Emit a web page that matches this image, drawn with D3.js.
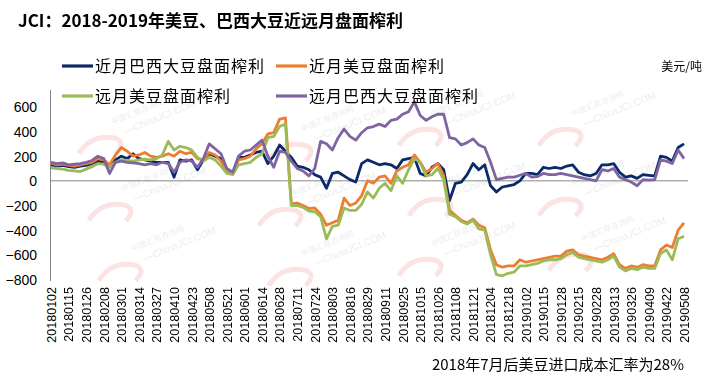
<!DOCTYPE html>
<html><head><meta charset="utf-8">
<script src="https://cdn.jsdelivr.net/npm/d3@7"></script>
<style>
html,body{margin:0;padding:0;background:#fff;}
svg{display:block;}
</style></head>
<body>
<svg id="chart" width="716" height="378"></svg>
<script>
// ---- data ----
const tickLabels = ["20180102","20180115","20180126","20180208","20180301","20180314","20180327","20180410","20180423","20180508","20180521","20180601","20180614","20180628","20180711","20180724","20180803","20180816","20180829","20180911","20180925","20181015","20181026","20181108","20181121","20181204","20181218","20190102","20190115","20190128","20190215","20190228","20190313","20190326","20190409","20190422","20190508"];
const yTicks = [-800,-600,-400,-200,0,200,400,600];
const seriesNames = ["近月巴西大豆盘面榨利","近月美豆盘面榨利","远月美豆盘面榨利","远月巴西大豆盘面榨利"];
// sampled every 3 trading days (tick labels every 3 samples)
const nearBrazil = [130,120,125,115,110,120,125,140,160,150,120,170,200,180,220,180,170,160,150,150,150,30,170,160,170,90,170,220,200,180,80,60,190,190,210,230,240,140,200,290,240,190,120,110,90,50,30,-60,60,70,40,10,-10,140,170,150,130,140,130,100,170,180,190,60,40,110,140,90,-160,-20,-10,50,140,90,130,-40,-90,-50,-40,-30,0,60,60,50,110,100,110,100,120,130,70,50,40,60,130,130,140,70,30,40,20,50,45,40,200,190,160,270,300];
const nearUS = [145,130,135,125,120,130,140,150,180,170,130,210,270,240,200,210,230,200,190,200,220,200,240,220,230,180,170,230,210,160,80,60,170,180,200,260,300,380,390,500,510,-185,-180,-200,-225,-220,-270,-360,-340,-320,-140,-200,-180,-120,0,-20,30,40,-20,80,110,130,210,150,70,100,140,40,-240,-280,-320,-340,-310,-360,-380,-560,-680,-700,-690,-690,-640,-660,-650,-640,-630,-620,-610,-610,-570,-560,-600,-610,-620,-630,-640,-620,-590,-680,-710,-690,-700,-680,-690,-690,-560,-520,-540,-400,-340];
const farUS = [105,100,95,85,80,75,95,115,140,135,110,150,170,165,160,170,175,170,180,210,320,250,280,270,250,190,160,190,170,120,60,50,130,140,150,190,220,350,360,440,460,-200,-200,-215,-245,-250,-290,-470,-370,-360,-220,-240,-240,-190,-90,-140,-60,-20,-80,40,-20,90,180,150,40,50,100,10,-270,-290,-330,-350,-320,-390,-400,-600,-760,-770,-750,-740,-690,-690,-680,-670,-650,-640,-640,-630,-600,-580,-620,-630,-640,-650,-660,-640,-610,-700,-730,-710,-720,-700,-710,-710,-590,-560,-640,-470,-450];
const farBrazil = [150,140,145,130,135,140,150,165,200,180,60,150,160,150,145,140,130,140,130,150,140,70,150,170,160,110,180,300,260,220,100,70,200,240,250,290,330,200,110,240,230,160,100,80,40,100,320,300,250,350,420,360,330,390,430,440,460,440,490,500,540,560,640,530,490,520,540,540,350,340,290,310,340,290,270,150,10,20,30,30,45,60,30,35,60,50,50,60,50,40,30,20,10,0,90,80,100,30,10,-10,-40,10,5,10,170,160,140,250,180];
const colors = ["#0b2a6b","#ed7d31","#9bbb59","#8064a2"];

// ---- chart ----
const svg = d3.select("#chart");
const series = [nearBrazil, nearUS, farUS, farBrazil];
const nSamples = nearBrazil.length;
const x = d3.scaleLinear().domain([0, nSamples - 1]).range([51, 684]);
const y = d3.scaleLinear().domain([-800, 700]).range([279.5, 94.5]);

// watermark (faint)
const wm = svg.append("g").attr("opacity", 0.4);
[[140,118],[150,185],[160,245],[330,125],[320,190],[330,250],[460,110],[470,180],[460,240],[600,110],[600,180],[610,235]].forEach(([cx,cy])=>{
  const g = wm.append("g").attr("transform",`translate(${cx},${cy}) rotate(-22)`);
  g.append("path").attr("d","M-70,10 q20,-14 40,0 q8,8 -6,14").attr("fill","none").attr("stroke","#f4b8b8").attr("stroke-width",5);
  g.append("text").attr("x",-28).attr("y",-4).attr("font-size",8).attr("fill","#cfcfcf").attr("font-family","Noto Sans CJK SC").text("中国汇易咨询网");
  g.append("text").attr("x",-20).attr("y",10).attr("font-size",10).attr("fill","#cfcfcf").attr("font-family","Liberation Sans").text("—ChinaJCI.COM");
});

// y axis line
svg.append("line").attr("x1",50.5).attr("x2",50.5).attr("y1",90).attr("y2",281).attr("stroke","#868686").attr("stroke-width",1);

// y axis labels via d3 axis
const yAxis = d3.axisLeft(y).tickValues(yTicks).tickSize(0).tickPadding(0).tickFormat(d3.format("d"));
const yg = svg.append("g").attr("transform","translate(37,0)").call(yAxis);
yg.select(".domain").remove();
yg.selectAll("text").attr("font-family","Liberation Sans, Arial, sans-serif").attr("font-size",14).attr("fill","#000").attr("dy","0.35em").attr("x",0);

// zero line
svg.append("line").attr("x1",50).attr("x2",688).attr("y1",y(0)).attr("y2",y(0)).attr("stroke","#868686").attr("stroke-width",1);

// x axis labels
const xTickIdx = tickLabels.map((d,i)=>i*3);
const xAxis = d3.axisBottom(x).tickValues(xTickIdx).tickSize(0).tickFormat((d)=>tickLabels[d/3]);
const xg = svg.append("g").attr("transform","translate(0,287)").call(xAxis);
xg.select(".domain").remove();
xg.selectAll("text")
  .attr("font-family","Liberation Sans, Arial, sans-serif").attr("font-size",12.5).attr("fill","#000")
  .attr("transform","rotate(-90)").attr("text-anchor","end").attr("x",0).attr("y",0).attr("dy","0.35em");

// lines
const line = d3.line().x((d,i)=>x(i)).y(d=>y(d));
series.forEach((s,k)=>{
  svg.append("path").datum(s).attr("d",line).attr("fill","none")
    .attr("stroke",colors[k]).attr("stroke-width",2.8).attr("stroke-linejoin","round");
});

// title
svg.append("text").attr("x",18).attr("y",27).attr("font-family","Noto Sans CJK SC, sans-serif")
  .attr("font-weight","bold").attr("font-size",17).attr("fill","#000")
  .text("JCI：2018-2019年美豆、巴西大豆近远月盘面榨利");

// legend
const legendPos = [[62,66],[276,66],[62,96],[276,96]];
seriesNames.forEach((name,k)=>{
  const [lx,ly] = legendPos[k];
  svg.append("line").attr("x1",lx).attr("x2",lx+31).attr("y1",ly).attr("y2",ly).attr("stroke",colors[k]).attr("stroke-width",3.2);
  svg.append("text").attr("x",lx+33).attr("y",ly).attr("dy","0.36em").attr("font-family","Noto Sans CJK SC, sans-serif")
    .attr("font-size",16).attr("letter-spacing",1).attr("fill","#000").text(name);
});
svg.append("text").attr("x",702).attr("y",67).attr("dy","0.36em").attr("text-anchor","end").attr("font-family","Noto Sans CJK SC, sans-serif")
  .attr("font-size",12).attr("fill","#000").text("美元/吨");

// footnote
svg.append("text").attr("x",684).attr("y",370).attr("text-anchor","end").attr("font-family","Noto Sans CJK SC, sans-serif")
  .attr("font-size",15).attr("fill","#000").text("2018年7月后美豆进口成本汇率为28%");
</script>
</body></html>
